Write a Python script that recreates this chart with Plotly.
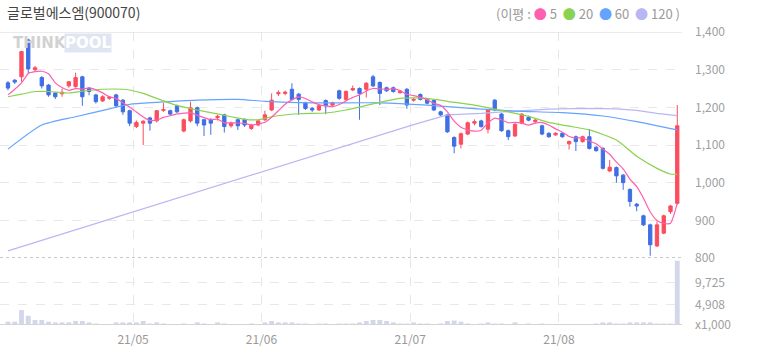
import plotly.graph_objects as go
import pandas as pd

# ---------------- data ----------------
apr = [6,7,8,9,12,13,14,15,16,19,20,21,22,23,26,27,28,29,30]
may = [3,4,6,7,10,11,12,13,14,17,18,20,21,24,25,26,27,28,31]
jun = [1,2,3,4,7,8,9,10,11,14,15,16,17,18,21,22,23,24,25,28,29,30]
jul = [1,2,5,6,7,8,9,12,13,14,15,16,19,20,21,22,23,26,27,28,29,30]
aug = [2,3,4,5,6,9,10,11,12,13,17,18,19,20,23,24,25,26]
dates = ([f"2021-04-{d:02d}" for d in apr] + [f"2021-05-{d:02d}" for d in may] +
         [f"2021-06-{d:02d}" for d in jun] + [f"2021-07-{d:02d}" for d in jul] +
         [f"2021-08-{d:02d}" for d in aug])

opens = [1265,1272,1281,1379,1300,1279,1259,1238,1236,1257,1255,1281,1251,1233,1217,1224,1233,1219,1191,1149,
         1158,1172,1164,1192,1191,1204,1137,1164,1199,1167,1168,1173,1180,1151,1167,1168,1144,1153,1167,1193,
         1236,1237,1248,1235,1212,1197,1193,1218,1206,1244,1221,1246,1250,1248,1281,1266,1252,1252,1239,1248,
         1219,1234,1221,1218,1188,1180,1120,1102,1129,1158,1164,1142,1219,1182,1138,1124,1158,1173,1162,1151,
         1131,1127,1131,1103,1122,1109,1122,1094,1091,1031,1040,1020,982,943,912,888,832,866,923,945]
highs = [1270,1275,1350,1382,1310,1283,1262,1240,1250,1270,1292,1284,1254,1236,1232,1230,1236,1222,1194,1165,
         1166,1175,1193,1212,1194,1207,1170,1215,1202,1170,1171,1180,1183,1162,1170,1171,1156,1168,1191,1237,
         1245,1245,1264,1238,1215,1201,1207,1221,1215,1247,1245,1258,1253,1267,1286,1269,1255,1255,1246,1251,
         1225,1237,1224,1221,1191,1183,1123,1133,1162,1168,1167,1196,1222,1185,1141,1158,1185,1178,1170,1154,
         1134,1134,1134,1112,1125,1125,1142,1097,1094,1060,1043,1023,985,946,915,891,897,915,941,1206]
lows = [1245,1262,1268,1291,1296,1250,1228,1222,1228,1252,1252,1204,1232,1210,1214,1220,1200,1180,1150,1145,
        1100,1138,1160,1188,1178,1185,1134,1160,1150,1124,1127,1165,1133,1146,1140,1148,1140,1150,1164,1190,
        1230,1232,1218,1180,1193,1188,1190,1182,1203,1220,1218,1243,1167,1226,1254,1206,1241,1239,1236,1196,
        1215,1218,1208,1190,1177,1132,1078,1091,1126,1152,1146,1131,1190,1135,1113,1121,1155,1163,1158,1126,
        1119,1124,1119,1088,1084,1106,1088,1082,1035,1028,1000,981,936,924,885,806,829,863,917,942]
closes = [1251,1267,1348,1302,1305,1257,1233,1228,1240,1268,1279,1228,1242,1215,1228,1227,1204,1188,1158,1160,
          1163,1158,1191,1194,1182,1188,1167,1199,1158,1153,1158,1176,1149,1158,1151,1153,1153,1164,1180,1219,
          1239,1240,1221,1221,1197,1193,1204,1204,1212,1224,1242,1250,1237,1264,1257,1237,1244,1242,1243,1206,
          1221,1221,1211,1193,1180,1135,1097,1130,1159,1162,1149,1193,1193,1138,1122,1155,1182,1166,1166,1129,
          1122,1131,1122,1109,1109,1122,1091,1085,1038,1041,1018,1000,950,938,888,835,888,912,938,1151]
# volume, in thousands of shares
volumes = [1250,1250,3800,2550,1620,1620,1250,1100,1100,1100,1400,1400,1100,860,750,750,1100,1100,1100,1100,
           1400,860,1100,860,750,750,860,750,1100,860,750,1100,860,750,750,750,860,750,1100,1400,
           1100,1100,1100,860,860,750,860,860,750,860,860,860,1100,1400,1620,1620,1400,1100,860,860,
           1100,860,860,750,860,1400,1500,1250,860,750,860,1100,860,860,750,1100,750,860,750,860,
           750,750,750,750,750,750,750,860,1100,1100,860,860,1100,1100,1100,1100,860,860,860,14600]

# moving averages (index into dates, value)
ma5_first = [1233, 1248, 1265, 1290]
ma20_idx = [0,2,4,6,9,11,14,17,18,20,23,25,28,30,33,35,37,39,43,47,50,53,55,58,62,65,69,74,77,80,83,86,90,93,96,98,99]
ma20_val = [1228,1235,1242,1242,1238,1243,1248,1248,1246,1237,1217,1205,1193,1186,1175,1168,1167,1175,1183,1185,
            1193,1205,1213,1224,1224,1216,1206,1188,1176,1160,1150,1140,1113,1070,1038,1023,1022]
ma60_idx = [0,5,10,15,18,22,28,34,38,45,55,62,68,75,82,88,93,99]
ma60_val = [1089,1153,1175,1196,1208,1213,1219,1221,1216,1212,1212,1206,1198,1190,1186,1177,1162,1140]
ma120_idx = [0,19,38,60,65,70,75,80,85,90,93,96,99]
ma120_val = [819,925,1032,1154,1180,1184,1190,1195,1197,1196,1192,1184,1178]

month_labels = ["21/05", "21/06", "21/07", "21/08"]
month_first = ["2021-05-03", "2021-06-01", "2021-07-01", "2021-08-02"]
price_ticks = [800, 900, 1000, 1100, 1200, 1300, 1400]
vol_ticks = [530, 4908, 9725]
vol_tick_text = ["x1,000", "4,908", "9,725"]

# ---------------- figure ----------------
xi = list(range(len(dates)))
ma5 = ma5_first + list(pd.Series(closes).rolling(5).mean().iloc[4:])

RED = "#fb4d5d"
BLUE = "#3f6fe4"
C5, C20, C60, C120 = "#ff5fb0", "#8ad24f", "#64a4ff", "#b9b7f3"
FONT = "Noto Sans CJK KR, Noto Sans, sans-serif"

fig = go.Figure()
fig.add_trace(go.Bar(x=xi, y=volumes, marker=dict(color="#d2d7ea", line=dict(width=0)),
                     xaxis="x", yaxis="y2", hoverinfo="skip"))
fig.add_trace(go.Scatter(x=ma120_idx, y=ma120_val, mode="lines", line=dict(color=C120, width=1.2),
                         xaxis="x", yaxis="y", hoverinfo="skip"))
fig.add_trace(go.Scatter(x=ma60_idx, y=ma60_val, mode="lines", line=dict(color=C60, width=1.2, shape="spline", smoothing=0.6),
                         xaxis="x", yaxis="y", hoverinfo="skip"))
fig.add_trace(go.Scatter(x=ma20_idx, y=ma20_val, mode="lines", line=dict(color=C20, width=1.2, shape="spline", smoothing=0.6),
                         xaxis="x", yaxis="y", hoverinfo="skip"))
fig.add_trace(go.Candlestick(x=xi, open=opens, high=highs, low=lows, close=closes,
                             increasing=dict(line=dict(color=RED, width=1), fillcolor=RED),
                             decreasing=dict(line=dict(color=BLUE, width=1), fillcolor=BLUE),
                             whiskerwidth=0, xaxis="x", yaxis="y", hovertext=dates))
fig.add_trace(go.Scatter(x=xi, y=ma5, mode="lines", line=dict(color=C5, width=1.2, shape="spline", smoothing=0.5),
                         xaxis="x", yaxis="y", hoverinfo="skip"))

tickpos = [dates.index(d) - 0.5 for d in month_first]

fig.update_layout(
    width=758, height=355,
    margin=dict(l=0, r=76, t=32, b=30),
    paper_bgcolor="white", plot_bgcolor="white",
    showlegend=False, bargap=0.28,
    font=dict(family=FONT, color="#999999", size=12),
    xaxis=dict(range=[-1.18, 99.7], anchor="y2", tickvals=tickpos, ticktext=month_labels,
               showgrid=True, griddash="dash", gridcolor="#e6e6e6", gridwidth=1,
               zeroline=False, showline=False, ticks="", ticklabelstandoff=6,
               rangeslider=dict(visible=False), tickfont=dict(size=12, color="#999999")),
    yaxis=dict(domain=[0.2287, 1], range=[800, 1400], side="right", tickvals=price_ticks,
               tickformat=",", showgrid=True, griddash="dash", gridcolor="#e8e8e8",
               zeroline=False, showline=False, ticks="", ticklabelstandoff=12,
               tickfont=dict(size=12, color="#a0a0a0")),
    yaxis2=dict(domain=[0, 0.2253], range=[530, 14980], side="right", tickvals=vol_ticks,
                ticktext=vol_tick_text, showgrid=True, griddash="dash", gridcolor="#e8e8e8",
                zeroline=False, showline=False, ticks="", ticklabelstandoff=12,
                tickfont=dict(size=12, color="#a0a0a0")),
    shapes=[
        dict(type="line", xref="paper", yref="y", x0=0, x1=1, y0=1400, y1=1400,
             line=dict(color="#e4e4e4", width=1.5)),
        dict(type="line", xref="paper", yref="y", x0=0, x1=1, y0=800, y1=800,
             line=dict(color="#b5b5b5", width=1.5, dash="dot")),
        dict(type="line", xref="paper", yref="y2", x0=0, x1=1, y0=530, y1=530,
             line=dict(color="#d5d5d5", width=2)),
    ],
    annotations=[
        dict(text="글로벌에스엠(900070)", xref="paper", yref="paper", x=0, y=1, xshift=5, yshift=20,
             xanchor="left", yanchor="middle", showarrow=False,
             font=dict(size=14, color="#444444", family=FONT)),
        dict(text=(f"(이평 : <span style='color:{C5}'>●</span> 5  <span style='color:{C20}'>●</span> 20  "
                   f"<span style='color:{C60}'>●</span> 60  <span style='color:{C120}'>●</span> 120 )"),
             xref="paper", yref="paper", x=1, y=1, yshift=19, xanchor="right", yanchor="middle",
             showarrow=False, font=dict(size=13, color="#999999", family=FONT)),
        dict(text="<b>THINK</b>", xref="x", yref="y", x=0.5, y=1372, xanchor="left", yanchor="middle",
             showarrow=False, font=dict(size=15, color="#d2d2d2", family="DejaVu Sans")),
        dict(text="<b>POOL</b>", xref="x", yref="y", x=8.3, y=1372, xanchor="left", yanchor="middle",
             showarrow=False, bgcolor="#dfe5f1", borderpad=0,
             font=dict(size=15, color="#ffffff", family="DejaVu Sans")),
    ],
)

fig.write_html("out.html", config={"displayModeBar": False},
               post_script="document.body.style.margin='0';document.body.style.padding='0';")
